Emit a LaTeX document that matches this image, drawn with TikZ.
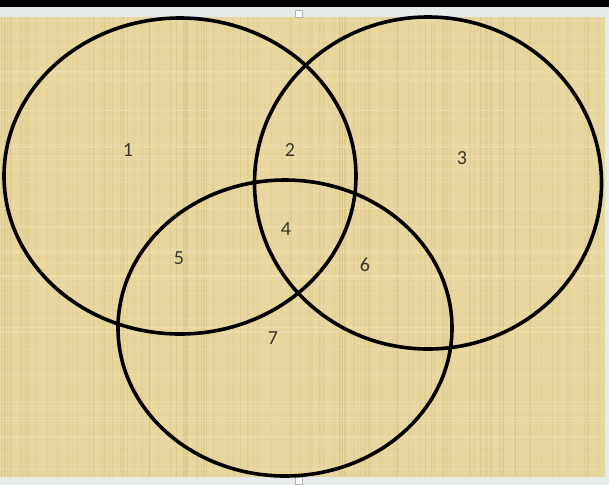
\documentclass[tikz,border=0pt]{standalone}
\usepackage{fontspec}
\setmainfont{Carlito}
\usetikzlibrary{shapes,positioning}
\definecolor{papyrus}{RGB}{231,215,158}
\definecolor{papyrusdark}{RGB}{196,176,110}
\definecolor{papyruslight}{RGB}{245,235,190}
\definecolor{framegray}{RGB}{230,234,234}
\definecolor{digitgray}{RGB}{58,55,42}

\begin{document}
\begin{tikzpicture}[x=1pt, y=-1pt,
    venn/.style={draw, ellipse, line width=3.6pt, inner sep=0pt},
    digit/.style={text=digitgray, font=\fontsize{20}{20}\selectfont},
    handle/.style={draw=gray!60, fill=white, minimum size=7pt, inner sep=0pt}]
    % Frame and papyrus background
    \useasboundingbox (0,0) rectangle (609,485);
    \fill[framegray] (0,0) rectangle (609,485);
    \fill[black] (0,0) rectangle (609,7);
    \fill[papyrus] (0,17) rectangle (605,477);
    \pgfmathsetseed{11}
    \foreach \i in {1,...,160} {
        \pgfmathsetmacro{\xx}{rnd*603+1}
        \pgfmathsetmacro{\op}{0.08+rnd*0.22}
        \draw[papyrusdark, opacity=\op, line width=0.9pt] (\xx,17) -- (\xx,477);
    }
    \foreach \i in {1,...,90} {
        \pgfmathsetmacro{\yy}{rnd*458+18}
        \pgfmathsetmacro{\op}{0.10+rnd*0.25}
        \draw[papyruslight, opacity=\op, line width=1.1pt] (0,\yy) -- (605,\yy);
    }
    \node[handle] (tophandle) at (299,14) {};
    \node[handle] (bothandle) at (299,481) {};

    % The three sets
    \node[venn, minimum width=352pt, minimum height=316pt] (setA) at (180,176) {};
    \node[venn, minimum width=347pt, minimum height=332pt] (setB) at (428,183) {};
    \node[venn, minimum width=334pt, minimum height=296pt] (setC) at (285,328) {};

    % Region numbers
    \node[digit] (r1) at (128,150) {1};
    \node[digit] (r2) at (290,150) {2};
    \node[digit] (r3) at (462,158) {3};
    \node[digit] (r4) at (286,229) {4};
    \node[digit] (r5) at (179,258) {5};
    \node[digit] (r6) at (365,265) {6};
    \node[digit] (r7) at (273,338) {7};
\end{tikzpicture}
\end{document}
